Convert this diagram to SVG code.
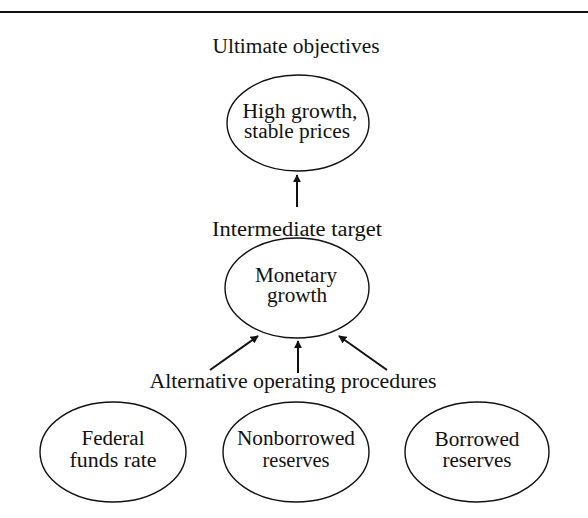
<svg xmlns="http://www.w3.org/2000/svg" width="588" height="518" viewBox="0 0 588 518">
<style>
.lbl{font-family:"Liberation Serif","Times New Roman",serif;font-size:20px;fill:#111;text-anchor:middle}
.node ellipse{fill:none;stroke:#111;stroke-width:1.4}
.conn line{stroke:#111;stroke-width:2}
</style>
<defs>
<marker id="ah" viewBox="0 0 10 10" refX="9" refY="5" markerWidth="4" markerHeight="4" orient="auto" markerUnits="strokeWidth">
<path d="M0,0 L10,5 L0,10 z" fill="#111"/>
</marker>
</defs>
<rect width="588" height="518" fill="#fff"/>
<line x1="0" y1="12" x2="588" y2="12" stroke="#111" stroke-width="2.2"/>
<text class="lbl" x="296" y="53" textLength="167" lengthAdjust="spacingAndGlyphs">Ultimate objectives</text>
<text class="lbl" x="297" y="236" textLength="170" lengthAdjust="spacingAndGlyphs">Intermediate target</text>
<text class="lbl" x="293" y="388" textLength="287" lengthAdjust="spacingAndGlyphs">Alternative operating procedures</text>
<g id="goal" class="node">
<ellipse cx="298" cy="123" rx="71" ry="48"/>
<text class="lbl" x="300" y="118" textLength="115" lengthAdjust="spacingAndGlyphs">High growth,</text>
<text class="lbl" x="297" y="138" textLength="106" lengthAdjust="spacingAndGlyphs">stable prices</text>
</g>
<g id="monetary" class="node">
<ellipse cx="297" cy="288" rx="72" ry="50"/>
<text class="lbl" x="296" y="282" textLength="82" lengthAdjust="spacingAndGlyphs">Monetary</text>
<text class="lbl" x="297" y="302" textLength="60" lengthAdjust="spacingAndGlyphs">growth</text>
</g>
<g id="fedfunds" class="node">
<ellipse cx="113" cy="452" rx="73" ry="50"/>
<text class="lbl" x="113" y="445" textLength="63" lengthAdjust="spacingAndGlyphs">Federal</text>
<text class="lbl" x="113" y="467" textLength="87" lengthAdjust="spacingAndGlyphs">funds rate</text>
</g>
<g id="nonborrowed" class="node">
<ellipse cx="296" cy="452" rx="73" ry="50"/>
<text class="lbl" x="296" y="445" textLength="118" lengthAdjust="spacingAndGlyphs">Nonborrowed</text>
<text class="lbl" x="296" y="467" textLength="67" lengthAdjust="spacingAndGlyphs">reserves</text>
</g>
<g id="borrowed" class="node">
<ellipse cx="477" cy="452" rx="72" ry="50"/>
<text class="lbl" x="477" y="446" textLength="85" lengthAdjust="spacingAndGlyphs">Borrowed</text>
<text class="lbl" x="477" y="467" textLength="69" lengthAdjust="spacingAndGlyphs">reserves</text>
</g>
<g id="connectors" class="conn">
<line x1="297" y1="207" x2="297" y2="175" marker-end="url(#ah)"/>
<line x1="210" y1="370" x2="258" y2="336" marker-end="url(#ah)"/>
<line x1="298" y1="373" x2="298" y2="341" marker-end="url(#ah)"/>
<line x1="387" y1="370" x2="339" y2="336" marker-end="url(#ah)"/>
</g>
</svg>
